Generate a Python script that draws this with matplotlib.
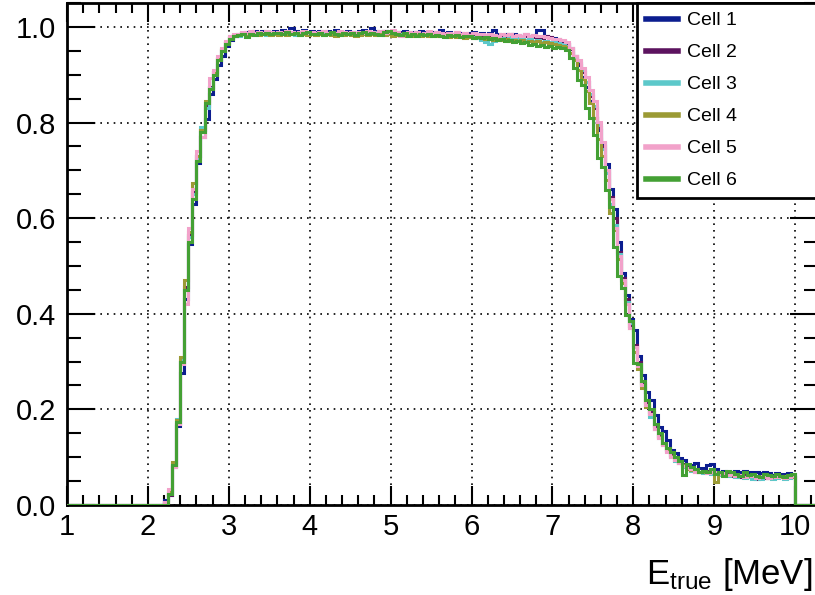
import matplotlib
matplotlib.use('Agg')
import matplotlib.pyplot as plt
from matplotlib.lines import Line2D
from matplotlib.ticker import MultipleLocator
import numpy as np

plt.rcParams['font.family'] = ['Liberation Sans', 'DejaVu Sans']
plt.rcParams['mathtext.default'] = 'regular'

# === DATA === #
# bins of 0.05 MeV from 1.00 to 10.25; values listed from 2.20 to 10.00
bin_width = 0.05
e_low, e_start, e_stop, e_high = 1.0, 2.2, 10.0, 10.25

labels = ['Cell 1', 'Cell 2', 'Cell 3', 'Cell 4', 'Cell 5', 'Cell 6']
colors = ['#0b1d8f', '#5c135f', '#5cc8ca', '#9b9a34', '#f2a2ca', '#44a034']

# rising edge 2.20 .. 3.05
rise = {
    'Cell 1': [0.01, 0.02, 0.08, 0.165, 0.276, 0.43, 0.545, 0.63, 0.715, 0.77, 0.807, 0.86, 0.89, 0.92, 0.94, 0.96, 0.972, 0.98],
    'Cell 2': [0.005, 0.02, 0.082, 0.17, 0.30, 0.455, 0.565, 0.655, 0.73, 0.785, 0.835, 0.875, 0.905, 0.93, 0.952, 0.967, 0.977, 0.982],
    'Cell 3': [0.003, 0.025, 0.085, 0.18, 0.305, 0.45, 0.56, 0.65, 0.725, 0.79, 0.83, 0.872, 0.90, 0.932, 0.95, 0.966, 0.976, 0.982],
    'Cell 4': [0.004, 0.03, 0.09, 0.178, 0.31, 0.47, 0.57, 0.674, 0.73, 0.785, 0.845, 0.87, 0.905, 0.935, 0.953, 0.968, 0.978, 0.983],
    'Cell 5': [0.006, 0.033, 0.08, 0.17, 0.295, 0.42, 0.58, 0.66, 0.74, 0.77, 0.84, 0.893, 0.91, 0.94, 0.955, 0.97, 0.98, 0.985],
    'Cell 6': [0.0, 0.024, 0.084, 0.174, 0.30, 0.45, 0.55, 0.64, 0.72, 0.78, 0.84, 0.87, 0.90, 0.93, 0.95, 0.965, 0.975, 0.98],
}

# plateau 3.10 .. 7.05
plateau = {
    'Cell 1': [0.985, 0.988, 0.99, 0.987, 0.991, 0.989, 0.992, 0.99, 0.988, 0.991,
               0.99, 0.993, 0.989, 0.997, 0.991, 0.99, 0.993, 0.988, 0.991, 0.99,
               0.992, 0.989, 0.991, 0.988, 0.993, 0.99, 0.989, 0.992, 0.99, 0.988,
               0.991, 0.993, 0.99, 0.998, 0.992, 0.989, 0.991, 0.99, 0.988, 0.99,
               0.989, 0.991, 0.987, 0.99, 0.988, 0.992, 0.989, 0.987, 0.99, 0.988,
               0.993, 0.988, 0.99, 0.986, 0.989, 0.987, 0.985, 0.988, 0.99, 0.986,
               0.987, 0.984, 0.988, 0.994, 0.985, 0.983, 0.986, 0.982, 0.985, 0.983,
               0.982, 0.985, 0.98, 0.983, 0.994, 0.993, 0.98, 0.978, 0.976, 0.974],
    'Cell 2': [0.984, 0.987, 0.986, 0.989, 0.987, 0.99, 0.988, 0.986, 0.989, 0.987,
               0.988, 0.99, 0.987, 0.989, 0.986, 0.99, 0.988, 0.987, 0.99, 0.988,
               0.987, 0.989, 0.986, 0.99, 0.988, 0.986, 0.989, 0.987, 0.99, 0.986,
               0.989, 0.987, 0.99, 0.988, 0.986, 0.989, 0.991, 0.988, 0.986, 0.989,
               0.987, 0.985, 0.988, 0.986, 0.989, 0.984, 0.987, 0.985, 0.988, 0.986,
               0.984, 0.987, 0.985, 0.983, 0.986, 0.984, 0.982, 0.985, 0.983, 0.981,
               0.984, 0.98, 0.983, 0.981, 0.979, 0.982, 0.98, 0.985, 0.978, 0.98,
               0.977, 0.98, 0.976, 0.979, 0.975, 0.977, 0.982, 0.978, 0.974, 0.972],
    'Cell 3': [0.982, 0.986, 0.984, 0.987, 0.985, 0.988, 0.986, 0.984, 0.987, 0.985,
               0.987, 0.985, 0.988, 0.986, 0.984, 0.987, 0.985, 0.988, 0.986, 0.984,
               0.986, 0.988, 0.985, 0.987, 0.984, 0.986, 0.988, 0.985, 0.987, 0.984,
               0.986, 0.988, 0.985, 0.987, 0.989, 0.986, 0.984, 0.987, 0.985, 0.988,
               0.985, 0.983, 0.986, 0.984, 0.987, 0.983, 0.985, 0.982, 0.985, 0.983,
               0.982, 0.985, 0.981, 0.983, 0.98, 0.982, 0.979, 0.981, 0.978, 0.976,
               0.972, 0.968, 0.965, 0.97, 0.974, 0.977, 0.975, 0.978, 0.974, 0.976,
               0.975, 0.972, 0.974, 0.97, 0.973, 0.969, 0.971, 0.968, 0.97, 0.967],
    'Cell 4': [0.984, 0.986, 0.985, 0.983, 0.986, 0.984, 0.987, 0.985, 0.983, 0.986,
               0.984, 0.986, 0.983, 0.985, 0.987, 0.984, 0.986, 0.983, 0.985, 0.984,
               0.985, 0.983, 0.986, 0.984, 0.982, 0.985, 0.983, 0.986, 0.984, 0.982,
               0.984, 0.986, 0.983, 0.985, 0.984, 0.986, 0.983, 0.985, 0.982, 0.984,
               0.983, 0.981, 0.984, 0.982, 0.985, 0.981, 0.983, 0.98, 0.983, 0.981,
               0.98, 0.983, 0.979, 0.981, 0.978, 0.98, 0.977, 0.979, 0.976, 0.978,
               0.976, 0.974, 0.977, 0.973, 0.975, 0.972, 0.974, 0.971, 0.973, 0.97,
               0.972, 0.969, 0.971, 0.968, 0.97, 0.967, 0.969, 0.966, 0.964, 0.962],
    'Cell 5': [0.986, 0.989, 0.987, 0.991, 0.988, 0.99, 0.987, 0.992, 0.989, 0.987,
               0.99, 0.988, 0.991, 0.989, 0.987, 0.99, 0.992, 0.988, 0.99, 0.987,
               0.989, 0.991, 0.987, 0.99, 0.988, 0.991, 0.989, 0.987, 0.99, 0.988,
               0.99, 0.988, 0.992, 0.989, 0.987, 0.991, 0.988, 0.99, 0.993, 0.989,
               0.98, 0.988, 0.99, 0.987, 0.989, 0.986, 0.988, 0.991, 0.987, 0.989,
               0.987, 0.985, 0.988, 0.986, 0.989, 0.985, 0.987, 0.984, 0.988, 0.986,
               0.985, 0.983, 0.986, 0.984, 0.982, 0.986, 0.983, 0.985, 0.981, 0.984,
               0.982, 0.985, 0.981, 0.983, 0.98, 0.982, 0.979, 0.976, 0.975, 0.974],
    'Cell 6': [0.983, 0.985, 0.978, 0.986, 0.984, 0.988, 0.986, 0.987, 0.985, 0.988,
               0.987, 0.985, 0.989, 0.986, 0.988, 0.984, 0.987, 0.989, 0.985, 0.986,
               0.988, 0.984, 0.986, 0.989, 0.985, 0.983, 0.987, 0.986, 0.988, 0.984,
               0.987, 0.99, 0.985, 0.988, 0.986, 0.984, 0.989, 0.991, 0.987, 0.986,
               0.984, 0.987, 0.982, 0.985, 0.98, 0.986, 0.983, 0.985, 0.981, 0.984,
               0.982, 0.979, 0.984, 0.981, 0.983, 0.978, 0.982, 0.98, 0.977, 0.979,
               0.976, 0.978, 0.974, 0.977, 0.972, 0.975, 0.97, 0.973, 0.969, 0.971,
               0.966, 0.968, 0.963, 0.965, 0.96, 0.962, 0.958, 0.96, 0.956, 0.957],
}

# falling edge 7.10 .. 7.95
fall = {
    'Cell 1': [0.97, 0.965, 0.955, 0.94, 0.92, 0.895, 0.875, 0.845, 0.81, 0.785, 0.757, 0.713, 0.66, 0.62, 0.551, 0.485, 0.44, 0.39],
    'Cell 2': [0.97, 0.965, 0.953, 0.94, 0.925, 0.905, 0.885, 0.855, 0.83, 0.79, 0.75, 0.70, 0.645, 0.60, 0.53, 0.475, 0.43, 0.375],
    'Cell 3': [0.965, 0.96, 0.945, 0.935, 0.928, 0.91, 0.885, 0.86, 0.835, 0.795, 0.745, 0.695, 0.63, 0.585, 0.525, 0.47, 0.425, 0.38],
    'Cell 4': [0.96, 0.958, 0.945, 0.93, 0.91, 0.89, 0.865, 0.84, 0.81, 0.765, 0.73, 0.68, 0.61, 0.575, 0.515, 0.465, 0.42, 0.37],
    'Cell 5': [0.973, 0.968, 0.955, 0.94, 0.93, 0.913, 0.896, 0.868, 0.844, 0.802, 0.76, 0.70, 0.64, 0.58, 0.52, 0.47, 0.42, 0.37],
    'Cell 6': [0.955, 0.952, 0.934, 0.913, 0.889, 0.879, 0.83, 0.81, 0.774, 0.726, 0.708, 0.659, 0.624, 0.54, 0.478, 0.454, 0.397, 0.384],
}

# tail 8.00 .. 9.95
tail = {
    'Cell 1': [0.366, 0.312, 0.272, 0.237, 0.22, 0.188, 0.163, 0.155, 0.136, 0.115, 0.108, 0.098, 0.094, 0.084, 0.084, 0.087, 0.077, 0.077, 0.084, 0.086,
               0.075, 0.07, 0.072, 0.068, 0.07, 0.071, 0.068, 0.072, 0.07, 0.068, 0.069, 0.066, 0.068, 0.067, 0.063, 0.066, 0.065, 0.064, 0.066, 0.065],
    'Cell 2': [0.335, 0.30, 0.255, 0.215, 0.195, 0.165, 0.145, 0.13, 0.118, 0.105, 0.10, 0.09, 0.086, 0.08, 0.077, 0.074, 0.07, 0.068, 0.071, 0.067,
               0.066, 0.068, 0.063, 0.065, 0.061, 0.063, 0.059, 0.062, 0.06, 0.058, 0.055, 0.06, 0.057, 0.059, 0.056, 0.058, 0.06, 0.057, 0.058, 0.059],
    'Cell 3': [0.33, 0.295, 0.25, 0.21, 0.185, 0.16, 0.14, 0.128, 0.112, 0.10, 0.093, 0.087, 0.08, 0.078, 0.072, 0.07, 0.069, 0.066, 0.068, 0.065,
               0.067, 0.063, 0.064, 0.06, 0.062, 0.058, 0.06, 0.056, 0.058, 0.055, 0.057, 0.054, 0.058, 0.056, 0.055, 0.057, 0.058, 0.055, 0.057, 0.058],
    'Cell 4': [0.32, 0.285, 0.245, 0.205, 0.19, 0.158, 0.142, 0.125, 0.115, 0.102, 0.095, 0.088, 0.084, 0.076, 0.074, 0.072, 0.068, 0.07, 0.07, 0.068,
               0.048, 0.064, 0.065, 0.062, 0.063, 0.06, 0.062, 0.059, 0.061, 0.06, 0.058, 0.06, 0.061, 0.057, 0.059, 0.06, 0.058, 0.06, 0.059, 0.058],
    'Cell 5': [0.33, 0.29, 0.25, 0.21, 0.19, 0.16, 0.14, 0.125, 0.11, 0.10, 0.095, 0.088, 0.082, 0.078, 0.075, 0.07, 0.068, 0.072, 0.066, 0.07,
               0.068, 0.064, 0.066, 0.062, 0.065, 0.06, 0.063, 0.058, 0.062, 0.06, 0.057, 0.061, 0.059, 0.056, 0.06, 0.058, 0.061, 0.057, 0.059, 0.06],
    'Cell 6': [0.297, 0.295, 0.26, 0.22, 0.20, 0.17, 0.15, 0.13, 0.12, 0.11, 0.10, 0.092, 0.063, 0.085, 0.08, 0.075, 0.07, 0.072, 0.068, 0.075,
               0.065, 0.07, 0.06, 0.072, 0.068, 0.065, 0.06, 0.07, 0.062, 0.065, 0.06, 0.058, 0.065, 0.062, 0.06, 0.064, 0.06, 0.058, 0.062, 0.065],
}

n_pre = int(round((e_start - e_low) / bin_width))
n_post = int(round((e_high - e_stop) / bin_width))
edges = np.linspace(e_low, e_high, int(round((e_high - e_low) / bin_width)) + 1)

# === FIGURE === #
fig = plt.figure(figsize=(8.15, 5.95), dpi=100)
W, H = 815.0, 595.0
ax = fig.add_axes([67 / W, 90 / H, 751 / W, 502 / H])

for name, col in zip(labels, colors):
    vals = [0.0] * n_pre + rise[name] + plateau[name] + fall[name] + tail[name] + [0.0] * n_post
    ax.stairs(vals, edges, color=col, lw=2.2, baseline=None, zorder=3)

ax.set_xlim(1.0, 1.0 + 751 / 80.9)
ax.set_ylim(0.0, 1.05)

ax.xaxis.set_major_locator(MultipleLocator(1))
ax.xaxis.set_minor_locator(MultipleLocator(0.2))
ax.yaxis.set_major_locator(MultipleLocator(0.2))
ax.yaxis.set_minor_locator(MultipleLocator(0.05))
ax.yaxis.set_major_formatter(matplotlib.ticker.FormatStrFormatter('%.1f'))

ax.tick_params(which='both', direction='in', top=True, right=True, width=1.5, labelsize=21)
ax.tick_params(axis='x', which='major', length=14, pad=6)
ax.tick_params(axis='x', which='minor', length=7)
ax.tick_params(axis='y', which='major', length=20, pad=8)
ax.tick_params(axis='y', which='minor', length=10)
for s in ax.spines.values():
    s.set_linewidth(2)

ax.grid(True, which='major', color='black', linestyle=(0, (1, 3)), linewidth=1.2)
ax.set_axisbelow(True)

fig.text(812 / W, 1 - 584 / H, 'E$_{true}$ [MeV]', ha='right', va='baseline', fontsize=25)

# legend
handles = [Line2D([], [], color=c, lw=4) for c in colors]
leg = ax.legend(handles, labels, loc='upper left', mode='expand',
                bbox_to_anchor=(637 / W, 1 - 197 / H, 190 / W, 194 / H), bbox_transform=fig.transFigure,
                fancybox=False, framealpha=1, edgecolor='black', fontsize=14,
                handlelength=1.65, handletextpad=0.45, labelspacing=0.74, borderpad=0.45,
                borderaxespad=0)
leg.get_frame().set_linewidth(2)
leg.set_zorder(5)

fig.savefig('out.png', dpi=100)
